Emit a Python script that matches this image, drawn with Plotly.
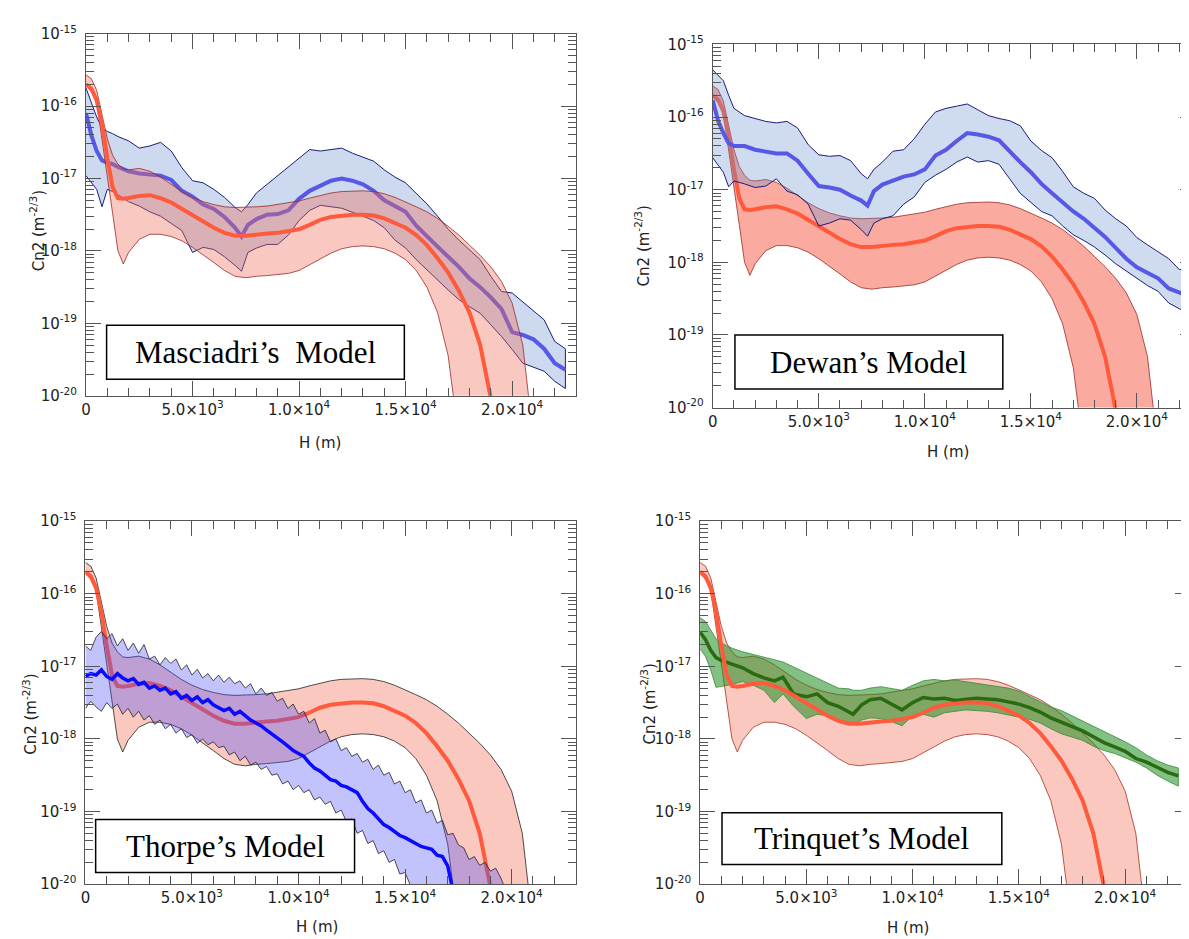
import plotly.graph_objects as go

FIG_W, FIG_H = 1189, 939

# ---------------- tick labels / texts ----------------
Y_TICK_VALUES = [1e-20, 1e-19, 1e-18, 1e-17, 1e-16, 1e-15]
Y_TICK_TEXT = ["10<sup>-20</sup>", "10<sup>-19</sup>", "10<sup>-18</sup>",
               "10<sup>-17</sup>", "10<sup>-16</sup>", "10<sup>-15</sup>"]
X_TICK_VALUES = [0, 5000, 10000, 15000, 20000]
X_TICK_TEXT = ["0", "5.0×10<sup>3</sup>", "1.0×10<sup>4</sup>",
               "1.5×10<sup>4</sup>", "2.0×10<sup>4</sup>"]
X_MINOR_VALUES = [1000, 2000, 3000, 4000, 6000, 7000, 8000, 9000, 11000, 12000,
                  13000, 14000, 16000, 17000, 18000, 19000, 21000, 22000]
Y_MINOR_VALUES = [k * 10.0 ** e for e in range(-20, -15) for k in range(2, 10)]
PANEL_TITLES = ["Masciadri’s\u00a0 Model", "Dewan’s Model", "Thorpe’s Model", "Trinquet’s Model"]
X_TITLE = "H (m)"
Y_TITLE = "Cn2 (m<sup>-2/3</sup>)"

# ---------------- reference (red) profile, log10(Cn2) ----------------
RED_H = [0, 250, 500, 750, 1000, 1250, 1500, 1750, 2000, 2500, 3000, 3500, 4000, 4500,
         5000, 5500, 6000, 6500, 7000, 7500, 8000, 8500, 9000, 9500, 10000, 10500, 11000,
         11500, 12000, 12500, 13000, 13500, 14000, 14500, 15000, 15500, 16000, 16500,
         17000, 17500, 18000, 18500, 19000, 19500, 20000, 20500, 21000]
RED_MID_LOG = [-15.70, -15.76, -15.92, -16.25, -16.72, -17.12, -17.27, -17.28, -17.27, -17.24,
               -17.23, -17.27, -17.33, -17.42, -17.50, -17.60, -17.68, -17.75, -17.79, -17.79,
               -17.77, -17.76, -17.75, -17.73, -17.70, -17.64, -17.57, -17.53, -17.51, -17.50,
               -17.50, -17.51, -17.55, -17.61, -17.68, -17.78, -17.92, -18.10, -18.30, -18.55,
               -18.85, -19.30, -20.10, -20.8, -21.5, -22.0, -22.5]
RED_UP_LOG = [-15.57, -15.62, -15.78, -16.10, -16.45, -16.68, -16.80, -16.87, -16.88, -16.86,
              -16.90, -16.98, -17.08, -17.18, -17.26, -17.32, -17.36, -17.39, -17.40, -17.40,
              -17.39, -17.38, -17.36, -17.34, -17.31, -17.27, -17.23, -17.20, -17.18, -17.17,
              -17.17, -17.18, -17.21, -17.26, -17.32, -17.39, -17.46, -17.55, -17.66, -17.78,
              -17.92, -18.06, -18.22, -18.42, -18.72, -19.30, -20.60]
RED_LO_LOG = [-15.72, -15.80, -15.95, -16.45, -16.97, -17.48, -18.00, -18.18, -18.02, -17.84,
              -17.77, -17.77, -17.80, -17.86, -17.95, -18.05, -18.16, -18.27, -18.35, -18.37,
              -18.35, -18.34, -18.33, -18.31, -18.27, -18.20, -18.11, -18.03, -17.97, -17.94,
              -17.93, -17.94, -17.97, -18.03, -18.12, -18.27, -18.50, -18.85, -19.45, -20.60,
              -22.0, -22.0, -22.0, -22.0, -22.0, -22.0, -22.0]

# ---------------- Masciadri model ----------------
MAS_H = [0, 250, 500, 750, 1000, 1250, 1500, 2000, 2500, 3000, 3500, 4000, 4500, 5000, 5500,
         6000, 6500, 7000, 7300, 7600, 8000, 8500, 9000, 9500, 10000, 10500, 11000, 11500,
         12000, 12500, 13000, 13500, 14000, 14500, 15000, 15500, 16000, 16500, 17000, 17500,
         18000, 18500, 19000, 19500, 20000, 20500, 21000, 21500, 22000, 22500]
MAS_MID_LOG = [-16.10, -16.40, -16.62, -16.75, -16.78, -16.80, -16.84, -16.90, -16.93, -16.95,
               -16.96, -17.02, -17.17, -17.25, -17.36, -17.42, -17.53, -17.68, -17.80, -17.64,
               -17.56, -17.50, -17.49, -17.44, -17.28, -17.17, -17.10, -17.03, -17.00, -17.03,
               -17.08, -17.17, -17.30, -17.38, -17.46, -17.65, -17.80, -17.94, -18.08, -18.22,
               -18.38, -18.50, -18.64, -18.80, -19.12, -19.16, -19.22, -19.35, -19.55, -19.64]
MAS_UP_LOG = [-15.75, -15.95, -16.15, -16.30, -16.35, -16.38, -16.42, -16.48, -16.58, -16.55,
              -16.50, -16.62, -16.85, -17.03, -17.06, -17.15, -17.26, -17.40, -17.46, -17.36,
              -17.20, -17.08, -16.96, -16.85, -16.72, -16.60, -16.62, -16.60, -16.58, -16.65,
              -16.70, -16.76, -16.88, -16.98, -17.06, -17.20, -17.35, -17.52, -17.70, -17.85,
              -17.98, -18.12, -18.35, -18.56, -18.58, -18.70, -18.82, -18.95, -19.25, -19.35]
MAS_LO_LOG = [-16.96, -17.05, -17.15, -17.39, -17.15, -17.18, -17.22, -17.32, -17.38, -17.46,
              -17.52, -17.62, -17.72, -18.02, -17.95, -17.98, -18.08, -18.20, -18.28, -18.02,
              -17.96, -17.91, -17.91, -17.78, -17.58, -17.44, -17.37, -17.39, -17.41, -17.47,
              -17.52, -17.58, -17.68, -17.85, -17.96, -18.12, -18.26, -18.40, -18.54, -18.67,
              -18.77, -18.86, -19.02, -19.18, -19.36, -19.55, -19.60, -19.66, -19.80, -19.90]

# ---------------- Dewan model ----------------
DEW_H = [0, 250, 500, 750, 1000, 1500, 2000, 2500, 3000, 3500, 4000, 4500, 5000, 5500, 6000,
         6500, 7000, 7300, 7600, 8000, 8500, 9000, 9500, 10000, 10500, 11000, 11500, 12000,
         12500, 13000, 13500, 14000, 14500, 15000, 15500, 16000, 16500, 17000, 17500, 18000,
         18500, 19000, 19500, 20000, 20500, 21000, 21500, 22000, 22500]
DEW_MID_LOG = [-15.77, -16.05, -16.22, -16.36, -16.40, -16.40, -16.45, -16.48, -16.50, -16.50,
               -16.60, -16.78, -16.95, -16.97, -17.00, -17.08, -17.15, -17.22, -17.02, -16.93,
               -16.88, -16.82, -16.79, -16.72, -16.53, -16.45, -16.33, -16.22, -16.24, -16.27,
               -16.32, -16.48, -16.62, -16.76, -16.92, -17.05, -17.18, -17.30, -17.40, -17.52,
               -17.65, -17.80, -17.95, -18.07, -18.14, -18.22, -18.36, -18.42, -18.47]
DEW_UP_LOG = [-15.35, -15.42, -15.50, -15.70, -15.88, -15.98, -16.02, -16.06, -16.08, -16.06,
              -16.15, -16.38, -16.52, -16.54, -16.53, -16.60, -16.78, -16.85, -16.72, -16.62,
              -16.47, -16.45, -16.30, -16.10, -15.93, -15.88, -15.85, -15.82, -15.90, -15.98,
              -16.02, -16.05, -16.12, -16.33, -16.46, -16.56, -16.75, -16.96, -17.05, -17.12,
              -17.28, -17.40, -17.50, -17.66, -17.76, -17.85, -17.95, -18.10, -18.08]
DEW_LO_LOG = [-16.56, -16.66, -16.76, -16.96, -16.88, -16.92, -16.97, -16.95, -16.85, -17.02,
              -17.07, -17.20, -17.50, -17.46, -17.40, -17.42, -17.55, -17.64, -17.46, -17.40,
              -17.36, -17.20, -17.10, -16.90, -16.80, -16.72, -16.62, -16.55, -16.62, -16.60,
              -16.65, -16.85, -17.05, -17.18, -17.30, -17.36, -17.50, -17.62, -17.70, -17.79,
              -17.90, -18.02, -18.12, -18.22, -18.32, -18.40, -18.56, -18.64, -18.70]

# ---------------- Thorpe model ----------------
THO_MID_H = [0, 250, 500, 750, 1000, 1250, 1500, 1750, 2000, 2250, 2500, 2750, 3000, 3250, 3500,
             3750, 4000, 4250, 4500, 4750, 5000, 5250, 5500, 5750, 6000, 6250, 6500, 6750, 7000,
             7250, 7500, 7750, 8000, 8250, 8500, 8750, 9000, 9250, 9500, 9750, 10000, 10250,
             10500, 10750, 11000, 11250, 11500, 11750, 12000, 12250, 12500, 12750, 13000, 13250,
             13500, 13750, 14000, 14250, 14500, 14750, 15000, 15250, 15500, 15750, 16000, 16250,
             16500, 16750, 17000, 17250, 17500]
THO_MID_LOG = [-17.14, -17.10, -17.12, -17.05, -17.14, -17.18, -17.10, -17.16, -17.20, -17.17,
               -17.25, -17.22, -17.30, -17.27, -17.33, -17.30, -17.38, -17.35, -17.44, -17.40,
               -17.47, -17.42, -17.50, -17.46, -17.53, -17.57, -17.61, -17.58, -17.66, -17.62,
               -17.68, -17.74, -17.78, -17.82, -17.88, -17.93, -17.98, -18.04, -18.10, -18.16,
               -18.20, -18.24, -18.33, -18.40, -18.44, -18.50, -18.56, -18.58, -18.64, -18.66,
               -18.70, -18.74, -18.86, -18.96, -19.02, -19.10, -19.18, -19.22, -19.28, -19.33,
               -19.36, -19.40, -19.44, -19.48, -19.50, -19.52, -19.60, -19.62, -19.75, -20.10,
               -20.60]
THO_UP_H = [0, 250, 500, 750, 1000, 1250, 1500, 1750, 2000, 2250, 2500, 2750, 3000, 3250, 3500,
            3750, 4000, 4250, 4500, 4750, 5000, 5250, 5500, 5750, 6000, 6250, 6500, 6750, 7000,
            7250, 7500, 7750, 8000, 8250, 8500, 8750, 9000, 9250, 9500, 9750, 10000, 10250,
            10500, 10750, 11000, 11250, 11500, 11750, 12000, 12250, 12500, 12750, 13000, 13250,
            13500, 13750, 14000, 14250, 14500, 14750, 15000, 15250, 15500, 15750, 16000, 16250,
            16500, 16750, 17000, 17250, 17500, 17750, 18000, 18250, 18500, 18750, 19000, 19250,
            19500, 19750, 20000]
THO_UP_LOG = [-16.72, -16.78, -16.60, -16.52, -16.62, -16.55, -16.72, -16.62, -16.78, -16.68,
              -16.82, -16.70, -16.90, -16.86, -16.98, -16.88, -16.96, -16.90, -17.05, -16.98,
              -17.12, -17.04, -17.16, -17.10, -17.20, -17.12, -17.22, -17.15, -17.24, -17.20,
              -17.30, -17.24, -17.38, -17.30, -17.40, -17.36, -17.48, -17.44, -17.58, -17.52,
              -17.66, -17.62, -17.78, -17.72, -17.92, -17.88, -18.04, -18.00, -18.16, -18.12,
              -18.24, -18.20, -18.32, -18.28, -18.42, -18.36, -18.50, -18.46, -18.62, -18.58,
              -18.74, -18.70, -18.88, -18.84, -19.02, -18.98, -19.16, -19.12, -19.32, -19.30,
              -19.46, -19.50, -19.66, -19.62, -19.74, -19.70, -19.82, -19.78, -19.92, -20.10,
              -20.50]
THO_LO_H = [0, 250, 500, 750, 1000, 1250, 1500, 1750, 2000, 2250, 2500, 2750, 3000, 3250, 3500,
            3750, 4000, 4250, 4500, 4750, 5000, 5250, 5500, 5750, 6000, 6250, 6500, 6750, 7000,
            7250, 7500, 7750, 8000, 8250, 8500, 8750, 9000, 9250, 9500, 9750, 10000, 10250,
            10500, 10750, 11000, 11250, 11500, 11750, 12000, 12250, 12500, 12750, 13000, 13250,
            13500, 13750, 14000, 14250, 14500, 14750, 15000, 15250, 15500, 15750]
THO_LO_LOG = [-17.58, -17.48, -17.56, -17.62, -17.50, -17.58, -17.52, -17.66, -17.58, -17.70,
              -17.62, -17.74, -17.68, -17.80, -17.74, -17.86, -17.80, -17.92, -17.86, -17.98,
              -17.94, -18.06, -18.00, -18.08, -18.04, -18.12, -18.10, -18.22, -18.18, -18.30,
              -18.24, -18.36, -18.32, -18.42, -18.38, -18.50, -18.48, -18.62, -18.58, -18.70,
              -18.64, -18.74, -18.70, -18.84, -18.80, -18.90, -18.86, -19.02, -18.98, -19.14,
              -19.10, -19.30, -19.26, -19.44, -19.40, -19.58, -19.54, -19.70, -19.66, -19.86,
              -19.84, -20.02, -20.30, -20.80]

# ---------------- Trinquet model ----------------
TRI_H = [0, 250, 500, 750, 1000, 1500, 2000, 2500, 3000, 3500, 3900, 4400, 5000, 5500, 6000,
         6500, 7000, 7200, 7600, 8000, 8500, 9000, 9500, 10000, 10500, 11000, 11500, 12000,
         12500, 13000, 13500, 14000, 14500, 15000, 15500, 16000, 16500, 17000, 17500, 18000,
         18500, 19000, 19500, 20000, 20500, 21000, 21500, 22000, 22500]
TRI_MID_LOG = [-16.53, -16.63, -16.78, -16.88, -16.92, -16.97, -17.02, -17.10, -17.16, -17.20,
               -17.15, -17.38, -17.42, -17.38, -17.50, -17.55, -17.62, -17.66, -17.53, -17.46,
               -17.44, -17.52, -17.60, -17.50, -17.43, -17.45, -17.44, -17.47, -17.45, -17.44,
               -17.45, -17.46, -17.49, -17.52, -17.57, -17.63, -17.71, -17.77, -17.83, -17.89,
               -17.97, -18.05, -18.11, -18.17, -18.27, -18.32, -18.39, -18.46, -18.51]
TRI_UP_LOG = [-16.33, -16.38, -16.50, -16.62, -16.68, -16.75, -16.80, -16.84, -16.87, -16.91,
              -16.94, -17.01, -17.09, -17.16, -17.24, -17.30, -17.31, -17.33, -17.33, -17.30,
              -17.28, -17.30, -17.33, -17.26, -17.20, -17.18, -17.20, -17.19, -17.21, -17.23,
              -17.25, -17.27, -17.30, -17.34, -17.41, -17.48, -17.56, -17.61, -17.68, -17.75,
              -17.82, -17.90, -17.97, -18.04, -18.12, -18.22, -18.30, -18.36, -18.40]
TRI_LO_LOG = [-16.76, -16.86, -17.05, -17.29, -17.28, -17.25, -17.21, -17.26, -17.33, -17.50,
              -17.38, -17.55, -17.72, -17.66, -17.68, -17.74, -17.79, -17.80, -17.74, -17.71,
              -17.72, -17.76, -17.82, -17.68, -17.66, -17.70, -17.64, -17.62, -17.60, -17.61,
              -17.62, -17.64, -17.66, -17.70, -17.73, -17.78, -17.86, -17.93, -17.98, -18.02,
              -18.10, -18.16, -18.20, -18.26, -18.32, -18.40, -18.50, -18.58, -18.65]


def pw(v):
    return [10.0 ** e for e in v]


def band(h_up, up, h_lo, lo, fill, lcol, lw, ax):
    x = list(h_up) + list(h_lo)[::-1]
    y = pw(up) + pw(lo)[::-1]
    return go.Scatter(x=x, y=y, mode="lines", fill="toself", fillcolor=fill,
                      line=dict(color=lcol, width=lw), xaxis="x" + ax, yaxis="y" + ax,
                      hoverinfo="skip", showlegend=False)


def line(h, v, col, lw, ax):
    return go.Scatter(x=h, y=pw(v), mode="lines", line=dict(color=col, width=lw),
                      xaxis="x" + ax, yaxis="y" + ax, hoverinfo="skip", showlegend=False)


RED_LINE = "#ff5a3c"
traces = []
# panel 1 : Masciadri (blue under red)
traces += [band(MAS_H, MAS_UP_LOG, MAS_H, MAS_LO_LOG, "rgba(110,145,205,0.35)", "#1c1c78", 1, "1"),
           line(MAS_H, MAS_MID_LOG, "#5858e6", 4, "1"),
           band(RED_H, RED_UP_LOG, RED_H, RED_LO_LOG, "rgba(240,110,90,0.38)", "#9a2a2a", 0.8, "1"),
           line(RED_H, RED_MID_LOG, RED_LINE, 4, "1")]
# panel 2 : Dewan
traces += [band(RED_H, RED_UP_LOG, RED_H, RED_LO_LOG, "rgba(245,100,80,0.55)", "#9a2a2a", 0.8, "2"),
           line(RED_H, RED_MID_LOG, RED_LINE, 4, "2"),
           band(DEW_H, DEW_UP_LOG, DEW_H, DEW_LO_LOG, "rgba(110,145,205,0.33)", "#1c1c78", 1, "2"),
           line(DEW_H, DEW_MID_LOG, "#5858e6", 4, "2")]
# panel 3 : Thorpe
traces += [band(RED_H, RED_UP_LOG, RED_H, RED_LO_LOG, "rgba(245,110,90,0.38)", "#222222", 0.8, "3"),
           line(RED_H, RED_MID_LOG, RED_LINE, 4, "3"),
           band(THO_UP_H, THO_UP_LOG, THO_LO_H, THO_LO_LOG, "rgba(80,80,250,0.35)", "#222222", 0.8, "3"),
           line(THO_MID_H, THO_MID_LOG, "#0a0aff", 3.5, "3")]
# panel 4 : Trinquet
traces += [band(RED_H, RED_UP_LOG, RED_H, RED_LO_LOG, "rgba(245,110,90,0.38)", "#a83020", 0.8, "4"),
           band(TRI_H, TRI_UP_LOG, TRI_H, TRI_LO_LOG, "rgba(30,140,30,0.55)", "#3a8a3a", 0.8, "4"),
           line(TRI_H, TRI_MID_LOG, "#2a6a10", 3.5, "4"),
           line(RED_H, RED_MID_LOG, RED_LINE, 4, "4")]

fig = go.Figure(traces)

# panel geometry in pixels: (left, right, top, bottom, x range max)
PANELS = [(73.3, 565, 15, 385, 22980),
          (702.7, 1187, 26, 397, 22740),
          (72.7, 565, 513, 884, 23000),
          (690, 1182, 513, 884, 23050)]

TICK_FONT = dict(family="DejaVu Sans", size=15, color="#222")
AX_COL = "#555"
layout = dict(width=FIG_W, height=FIG_H, margin=dict(l=0, r=0, t=0, b=0),
              paper_bgcolor="white", plot_bgcolor="white", showlegend=False)
for i, (l, r, t, b, xmax) in enumerate(PANELS, start=1):
    sx = "" if i == 1 else str(i)
    layout["xaxis" + sx] = dict(
        domain=[l / FIG_W, r / FIG_W], range=[0, xmax], anchor="y" + str(i),
        showline=True, linecolor=AX_COL, linewidth=1, mirror="allticks",
        ticks="inside", ticklen=15, tickwidth=1, tickcolor=AX_COL,
        tickmode="array", tickvals=X_TICK_VALUES, ticktext=X_TICK_TEXT,
        tickfont=TICK_FONT, showgrid=False, zeroline=False,
        minor=dict(ticks="inside", ticklen=8, tickwidth=1, tickcolor=AX_COL,
                   tickmode="array", tickvals=X_MINOR_VALUES, showgrid=False))
    layout["yaxis" + sx] = dict(
        domain=[1 - b / FIG_H, 1 - t / FIG_H], type="log", range=[-20, -15],
        anchor="x" + str(i),
        showline=True, linecolor=AX_COL, linewidth=1, mirror="allticks",
        ticks="inside", ticklen=15, tickwidth=1, tickcolor=AX_COL,
        tickmode="array", tickvals=Y_TICK_VALUES, ticktext=Y_TICK_TEXT,
        tickfont=TICK_FONT, ticklabelstandoff=5, showgrid=False, zeroline=False,
        minor=dict(ticks="inside", ticklen=8, tickwidth=1, tickcolor=AX_COL,
                   tickmode="array", tickvals=Y_MINOR_VALUES, showgrid=False))

# model name boxes (pixels)
BOXES = [(94, 393, 313, 368), (725, 994, 323, 378), (83, 343, 818, 872), (712, 993, 811, 864)]
XLAB_POS = [(308, 433), (939, 442), (305, 928), (899, 929)]
YLAB_POS = [(25, 216), (632, 232), (17, 710), (638, 700)]

shapes, annotations = [], []
for (x0, x1, y0, y1), name in zip(BOXES, PANEL_TITLES):
    shapes.append(dict(type="rect", xref="paper", yref="paper", layer="above",
                       x0=x0 / FIG_W, x1=x1 / FIG_W, y0=1 - y1 / FIG_H, y1=1 - y0 / FIG_H,
                       fillcolor="white", line=dict(color="black", width=1.5)))
    annotations.append(dict(xref="paper", yref="paper", x=(x0 + x1) / 2 / FIG_W,
                            y=1 - (y0 + y1) / 2 / FIG_H, text=name, showarrow=False,
                            xanchor="center", yanchor="middle",
                            font=dict(family="Liberation Serif", size=31, color="black")))
for (x, y) in XLAB_POS:
    annotations.append(dict(xref="paper", yref="paper", x=x / FIG_W, y=1 - y / FIG_H,
                            text=X_TITLE, showarrow=False, xanchor="center", yanchor="middle",
                            font=dict(family="DejaVu Sans", size=15, color="#222")))
for (x, y) in YLAB_POS:
    annotations.append(dict(xref="paper", yref="paper", x=x / FIG_W, y=1 - y / FIG_H,
                            text=Y_TITLE, showarrow=False, xanchor="center", yanchor="middle",
                            textangle=-90,
                            font=dict(family="DejaVu Sans", size=15, color="#222")))
layout["shapes"] = shapes
layout["annotations"] = annotations
fig.update_layout(**layout)
fig.write_html("out.html")
